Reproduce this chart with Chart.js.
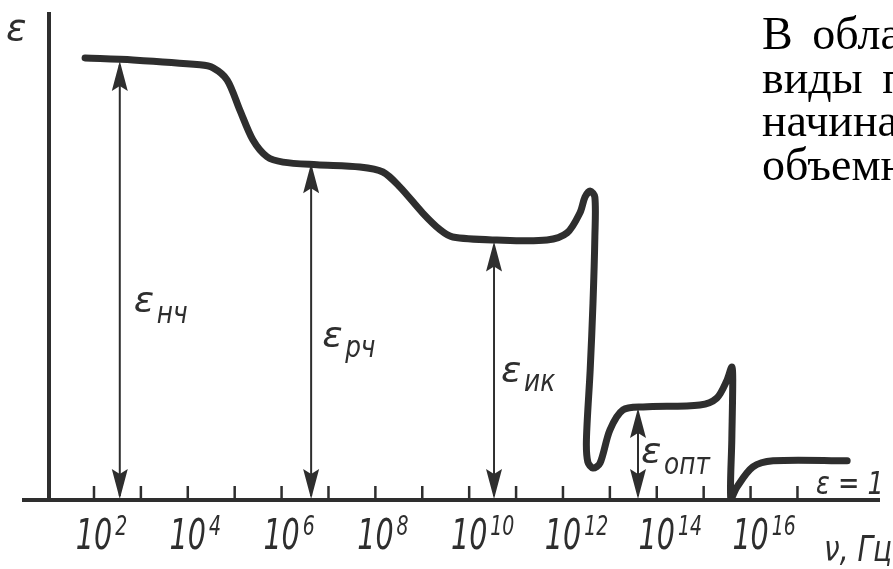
<!DOCTYPE html>
<html><head><meta charset="utf-8">
<script src="https://cdn.jsdelivr.net/npm/chart.js@4"></script>
<style>
html,body{margin:0;padding:0;background:#fff;overflow:hidden;width:893px;height:569px}
#wrap{position:relative;width:893px;height:569px;overflow:hidden}
canvas{position:absolute;left:0;top:0}
#side{position:absolute;left:762px;top:12px;font-family:"Liberation Serif",serif;font-size:46px;line-height:43.5px;white-space:pre;color:#000;word-spacing:8px}
</style></head><body>
<div id="wrap"><canvas id="c" width="893" height="569"></canvas>
<div id="side"><div>В обласах</div><div>виды поляр</div><div>начиная</div><div>объемно</div></div></div>
<script>
// log10 of frequency (Hz) along the curve
const logFreq = [1.81, 2.83, 4.26, 4.54, 4.84, 5.11, 5.39, 5.69, 6.03, 6.75, 7.67, 8.16, 8.52, 9.01, 9.38, 9.65, 10.59, 11.66, 12.09, 12.36, 12.47, 12.58, 12.68, 12.68, 12.64, 12.58, 12.5, 12.53, 12.64, 12.79, 13.00, 13.28, 13.71, 14.92, 15.28, 15.50, 15.60, 15.62, 15.60, 15.58, 15.71, 16.05, 16.48, 18.06];
// relative permittivity values along the curve
const epsValues = [11.63, 11.58, 11.45, 11.37, 11.05, 10.26, 9.47, 9.03, 8.89, 8.82, 8.76, 8.63, 8.24, 7.55, 7.11, 6.92, 6.84, 6.84, 7.03, 7.55, 7.97, 8.13, 7.97, 6.92, 5.18, 3.42, 1.58, 1.0, 0.84, 0.97, 1.84, 2.37, 2.45, 2.50, 2.68, 3.16, 3.50, 3.16, 1.58, 0.0, 0.34, 0.87, 1.03, 1.03];
// decade tick marks and labelled exponents
const tickDecades = [2, 3, 4, 5, 6, 7, 8, 9, 10, 11, 12, 13, 14, 15, 16, 17];
const labelExponents = [2, 4, 6, 8, 10, 12, 14, 16];
// double arrows marking the permittivity components
const arrowFreq = [2.55, 6.63, 10.53, 13.6];
const arrowTop = [11.55, 8.86, 6.80, 2.42];
const arrowNames = ['нч', 'рч', 'ик', 'опт'];

const INK = '#2e2e2e';
const X_MIN = 0.465, X_MAX = 18.76, Y_MAX = 12.84, Y_AXIS_AT = 1.04;
const labelPos = [ // pixel offsets for arrow labels: dx from arrow, baseline y
  {dx: 14, y: 312, sy: 323},
  {dx: 11, y: 347, sy: 357},
  {dx: 7, y: 382, sy: 391},
  {dx: 3, y: 463, sy: 474}
];

function arrowHead(ctx, x, y, dir) {
  const L = 30, W = 8;
  ctx.beginPath();
  ctx.moveTo(x, y);
  ctx.lineTo(x - W, y + dir * L);
  ctx.lineTo(x, y + dir * (L - 5));
  ctx.lineTo(x + W, y + dir * L);
  ctx.closePath();
  ctx.fill();
}

function narrowText(ctx, text, x, y, sx, align) {
  ctx.save();
  ctx.translate(x, y);
  ctx.scale(sx, 1);
  ctx.textAlign = align || 'left';
  ctx.fillText(text, 0, 0);
  ctx.restore();
}

const decor = {
  id: 'decor',
  afterDatasetsDraw(chart) {
    const ctx = chart.ctx, xs = chart.scales.x, ys = chart.scales.y;
    const y0 = ys.getPixelForValue(0);
    ctx.save();
    ctx.strokeStyle = INK; ctx.fillStyle = INK;
    // baseline
    ctx.lineWidth = 4; ctx.lineCap = 'butt';
    ctx.beginPath(); ctx.moveTo(xs.left, y0); ctx.lineTo(xs.right, y0); ctx.stroke();
    // y axis
    const ya = Math.round(xs.getPixelForValue(Y_AXIS_AT));
    ctx.beginPath(); ctx.moveTo(ya, ys.top); ctx.lineTo(ya, y0); ctx.stroke();
    // ticks
    ctx.lineWidth = 2.5;
    tickDecades.forEach(d => {
      const px = xs.getPixelForValue(d);
      ctx.beginPath(); ctx.moveTo(px, y0); ctx.lineTo(px, y0 - 14); ctx.stroke();
    });
    // tick labels
    labelExponents.forEach(e => {
      const px = xs.getPixelForValue(e);
      ctx.font = 'italic 42px "DejaVu Sans"';
      ctx.textBaseline = 'alphabetic';
      const w = ctx.measureText('10').width * 0.68;
      narrowText(ctx, '10', px - w / 2, 549, 0.68);
      ctx.font = 'italic 27px "DejaVu Sans"';
      narrowText(ctx, String(e), px + w / 2 + 3, 535, 0.7);
    });
    // arrows
    ctx.lineWidth = 2;
    arrowFreq.forEach((f, i) => {
      const px = xs.getPixelForValue(f);
      const top = ys.getPixelForValue(arrowTop[i]);
      ctx.beginPath(); ctx.moveTo(px, top + 4); ctx.lineTo(px, y0 - 4); ctx.stroke();
      arrowHead(ctx, px, top, 1);
      arrowHead(ctx, px, y0 - 1, -1);
      const lp = labelPos[i];
      ctx.font = 'italic 36px "DejaVu Sans"';
      narrowText(ctx, 'ε', px + lp.dx, lp.y, 1.05);
      ctx.font = 'italic 31px "DejaVu Sans"';
      narrowText(ctx, arrowNames[i], px + lp.dx + 23, lp.sy, 0.8);
    });
    // axis names
    ctx.font = 'italic 38px "DejaVu Sans"';
    narrowText(ctx, 'ε', 6, 40, 1.0);
    ctx.font = 'italic 32px "DejaVu Sans"';
    narrowText(ctx, 'ε = 1', 816, 494, 0.8);
    ctx.font = 'italic 35px "DejaVu Sans"';
    narrowText(ctx, 'ν, Гц', 824, 561, 0.8);
    ctx.restore();
  }
};

new Chart(document.getElementById('c'), {
  type: 'line',
  data: {
    datasets: [{
      data: logFreq.map((x, i) => ({x: x, y: epsValues[i]})),
      borderColor: INK,
      borderWidth: 7,
      pointRadius: 0,
      tension: 0.3,
      borderCapStyle: 'round',
      borderJoinStyle: 'round',
      fill: false
    }]
  },
  options: {
    responsive: false,
    animation: false,
    devicePixelRatio: 1,
    layout: {padding: {left: 22, right: 13, top: 12, bottom: 69}},
    scales: {
      x: {type: 'linear', min: X_MIN, max: X_MAX, display: false},
      y: {type: 'linear', min: 0, max: Y_MAX, display: false}
    },
    plugins: {legend: {display: false}, tooltip: {enabled: false}}
  },
  plugins: [decor]
});
</script>
</body></html>
